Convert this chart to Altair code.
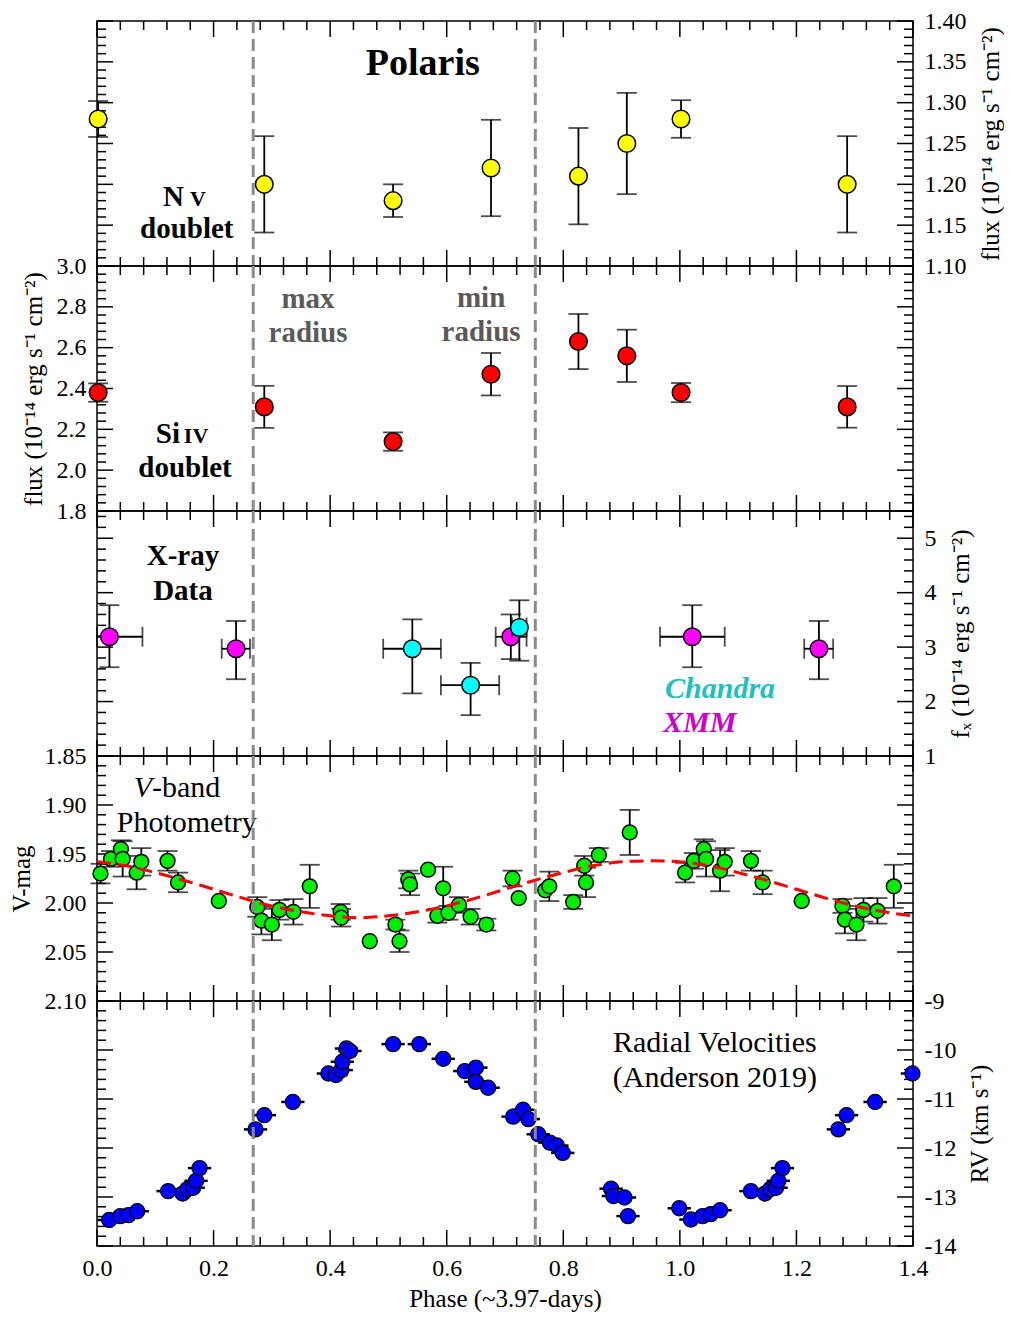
import altair as alt
import pandas as pd

FONT = "Liberation Serif"
W, H = 816, 245

# ---------------- data ----------------
phase_labels = [0.0, 0.2, 0.4, 0.6, 0.8, 1.0, 1.2, 1.4]
boundary_phases = [0.268, 0.752]

# N V doublet
nv_phase = [0.002, 0.287, 0.508, 0.676, 0.826, 0.909, 1.002, 1.287]
nv_flux = [1.280, 1.200, 1.180, 1.220, 1.210, 1.250, 1.280, 1.200]
nv_err = [0.022, 0.059, 0.020, 0.059, 0.059, 0.062, 0.023, 0.059]

# Si IV doublet
si_phase = [0.002, 0.287, 0.508, 0.676, 0.826, 0.909, 1.002, 1.287]
si_flux = [2.380, 2.310, 2.140, 2.470, 2.630, 2.560, 2.380, 2.310]
si_err = [0.045, 0.103, 0.045, 0.104, 0.135, 0.128, 0.047, 0.102]

# X-ray: XMM
xmm_phase = [0.0213, 0.2386, 0.710, 1.0213, 1.2386]
xmm_flux = [3.19, 2.97, 3.19, 3.19, 2.97]
xmm_lo = [2.63, 2.41, 2.78, 2.63, 2.41]
xmm_hi = [3.77, 3.48, 3.60, 3.77, 3.48]
xmm_plo = [-0.034, 0.214, 0.684, 0.966, 1.2134]
xmm_phi = [0.078, 0.2625, 0.737, 1.077, 1.263]
# X-ray: Chandra
cha_phase = [0.541, 0.641, 0.7246]
cha_flux = [2.97, 2.30, 3.36]
cha_lo = [2.15, 1.75, 2.75]
cha_hi = [3.51, 2.71, 3.86]
cha_plo = [0.491, 0.590, 0.712]
cha_phi = [0.590, 0.690, 0.737]

# V-band photometry
v_phase = [0.006, 0.024, 0.041, 0.044, 0.068, 0.076, 0.121, 0.139, 0.209, 0.275,
           0.282, 0.300, 0.313, 0.337, 0.365, 0.418, 0.419, 0.468, 0.512, 0.519,
           0.534, 0.537, 0.568, 0.584, 0.594, 0.603, 0.621, 0.641, 0.668, 0.713,
           0.7235, 0.769, 0.776, 0.817, 0.836, 0.839, 0.861, 0.914, 1.009, 1.024,
           1.041, 1.045, 1.069, 1.077, 1.122, 1.142, 1.209, 1.279, 1.283, 1.303,
           1.315, 1.339, 1.367]
v_mag = [1.970, 1.955, 1.945, 1.955, 1.969, 1.958, 1.957, 1.979, 1.998, 2.004,
         2.018, 2.022, 2.007, 2.009, 1.983, 2.009, 2.015, 2.039, 2.022, 2.039,
         1.976, 1.981, 1.966, 2.013, 1.985, 2.010, 2.002, 2.014, 2.022, 1.975,
         1.995, 1.987, 1.983, 1.999, 1.962, 1.979, 1.951, 1.928, 1.969, 1.957,
         1.945, 1.955, 1.967, 1.958, 1.957, 1.979, 1.998, 2.003, 2.017, 2.022,
         2.007, 2.008, 1.983]
v_err = [0.010, 0.008, 0.009, 0.018, 0.017, 0.014, 0.010, 0.010, 0.0, 0.010,
         0.014, 0.016, 0.010, 0.013, 0.022, 0.008, 0.009, 0.0, 0.005, 0.011,
         0.009, 0.011, 0.0, 0.007, 0.022, 0.007, 0.008, 0.008, 0.006, 0.008,
         0.0, 0.0, 0.015, 0.007, 0.010, 0.015, 0.007, 0.023, 0.010, 0.008,
         0.010, 0.018, 0.021, 0.014, 0.010, 0.012, 0.0, 0.007, 0.014, 0.016,
         0.012, 0.013, 0.022]

# red dashed fit curve
fit_phase = [0.00, 0.05, 0.10, 0.15, 0.20, 0.25, 0.30, 0.35, 0.40, 0.45, 0.50,
             0.55, 0.60, 0.65, 0.70, 0.75, 0.80, 0.85, 0.90, 0.95, 1.00, 1.05,
             1.10, 1.15, 1.20, 1.25, 1.30, 1.35, 1.40]
fit_mag = [1.958, 1.962, 1.969, 1.977, 1.986, 1.995, 2.003, 2.009, 2.013, 2.015,
           2.013, 2.009, 2.003, 1.995, 1.986, 1.977, 1.969, 1.962, 1.958, 1.957,
           1.958, 1.962, 1.969, 1.977, 1.986, 1.995, 2.003, 2.009, 2.013]

# Radial velocities
rv_phase = [0.021, 0.040, 0.054, 0.069, 0.122, 0.147, 0.155, 0.165, 0.170, 0.176,
            0.272, 0.287, 0.336, 0.397, 0.410, 0.419, 0.421, 0.428, 0.434, 0.508,
            0.553, 0.594, 0.631, 0.650, 0.650, 0.671, 0.714, 0.731, 0.740, 0.757,
            0.777, 0.789, 0.799, 0.882, 0.886, 0.905, 0.911, 0.999, 1.019, 1.039,
            1.053, 1.069, 1.122, 1.146, 1.155, 1.165, 1.169, 1.176, 1.272, 1.286,
            1.335, 1.399]
rv_kms = [-13.47, -13.39, -13.37, -13.29, -12.88, -12.93, -12.84, -12.81, -12.67, -12.41,
          -11.62, -11.33, -11.06, -10.48, -10.51, -10.41, -10.24, -9.97, -10.02, -9.88,
          -9.88, -10.18, -10.43, -10.36, -10.65, -10.77, -11.36, -11.22, -11.41, -11.72,
          -11.89, -11.95, -12.10, -12.83, -12.98, -13.01, -13.39, -13.23, -13.46, -13.39,
          -13.35, -13.27, -12.88, -12.93, -12.84, -12.81, -12.67, -12.41, -11.62, -11.33,
          -11.06, -10.48]
rv_perr = 0.02

# axis tick values
def tick_sets(lo, hi, minor_step, per_major):
    n = int(round((hi - lo) / minor_step))
    major, minor = [], []
    for i in range(n + 1):
        v = round(lo + i * minor_step, 4)
        (major if i % per_major == 0 else minor).append(v)
    return major, minor

x_major, x_minor = tick_sets(0.0, 1.4, 0.04, 5)

# ---------------- helpers ----------------
def xq(field, axis=None):
    return alt.X(field, type="quantitative",
                 scale=alt.Scale(domain=[0, 1.4], nice=False, zero=False, clamp=True),
                 axis=axis)


def make_y(domain, axis, reverse=False):
    def yq(field):
        return alt.Y(field, type="quantitative",
                     scale=alt.Scale(domain=domain, nice=False, zero=False, reverse=reverse),
                     axis=axis)
    return yq


def tick_layers(yq, xaxis, y_major, y_minor):
    layers = []
    for vals, L in ((x_major, 16), (x_minor, 9)):
        base = alt.Chart(pd.DataFrame({"t": vals})).mark_rule(color="black", strokeWidth=1.5)
        layers.append(base.encode(x=xq("t", xaxis), y=alt.value(0), y2=alt.value(L)))
        layers.append(base.encode(x=xq("t", xaxis), y=alt.value(H), y2=alt.value(H - L)))
    for vals, L in ((y_major, 16), (y_minor, 9)):
        base = alt.Chart(pd.DataFrame({"t": vals})).mark_rule(color="black", strokeWidth=1.5)
        layers.append(base.encode(y=yq("t"), x=alt.value(0), x2=alt.value(L)))
        layers.append(base.encode(y=yq("t"), x=alt.value(W), x2=alt.value(W - L)))
    return layers


def dashed(xaxis):
    return alt.Chart(pd.DataFrame({"b": boundary_phases})).mark_rule(
        color="#8a8a8a", strokeWidth=3, strokeDash=[12, 6]
    ).encode(x=xq("b", xaxis), y=alt.value(0), y2=alt.value(H))


def text(yq, xaxis, xs, vs, labels, **props):
    df = pd.DataFrame({"x": xs, "v": vs, "t": labels})
    p = dict(font=FONT, fontSize=29, fontWeight="bold", color="black")
    p.update(props)
    return alt.Chart(df).mark_text(**p).encode(x=xq("x", xaxis), y=yq("v"), text="t:N")


def yaxis(orient, values, fmt=None, title="", expr=None):
    kw = dict(orient=orient, values=values, title=title, labelOverlap=False,
              labelFlush=False, labelPadding=11, ticks=False, domain=False, grid=False)
    if fmt:
        kw["format"] = fmt
    if expr:
        kw["labelExpr"] = expr
    if orient == "right":
        kw.update(titleAngle=270, titleBaseline="top", titlePadding=12)
    else:
        kw.update(titlePadding=10)
    return alt.Axis(**kw)


FLUX_TITLE = "flux (10\u207b\u00b9\u2074 erg s\u207b\u00b9 cm\u207b\u00b2)"

# ---------------- panel 1: N V ----------------
y1maj, y1min = tick_sets(1.10, 1.40, 0.01, 5)
yq1 = make_y([1.10, 1.40], yaxis("right", y1maj, ".2f", FLUX_TITLE))
df1 = pd.DataFrame({"p": nv_phase, "v": nv_flux, "e": nv_err})
df1["lo"] = df1.v - df1.e
df1["hi"] = df1.v + df1.e
p1 = alt.layer(
    *tick_layers(yq1, None, y1maj, y1min),
    alt.Chart(df1).mark_errorbar(ticks=True, size=20, thickness=1.8, color="black")
    .encode(x=xq("p"), y=yq1("lo"), y2=alt.Y2("hi")),
    alt.Chart(df1).mark_circle(size=310, fill="#ffff00", stroke="black", strokeWidth=1.5, opacity=1)
    .encode(x=xq("p"), y=yq1("v")),
    text(yq1, None, [0.559], [1.347], ["Polaris"], fontSize=38),
    text(yq1, None, [0.149], [1.1735], ["N"], align="right", baseline="alphabetic"),
    text(yq1, None, [0.1595], [1.1735], ["V"], align="left", baseline="alphabetic", fontSize=22),
    text(yq1, None, [0.154], [1.145], ["doublet"]),
    dashed(None),
).properties(width=W, height=H)

# ---------------- panel 2: Si IV ----------------
y2maj, y2min = tick_sets(1.8, 3.0, 0.04, 5)
yq2 = make_y([1.8, 3.0], yaxis("left", y2maj, ".1f", FLUX_TITLE))
df2 = pd.DataFrame({"p": si_phase, "v": si_flux, "e": si_err})
df2["lo"] = df2.v - df2.e
df2["hi"] = df2.v + df2.e
p2 = alt.layer(
    *tick_layers(yq2, None, y2maj, y2min),
    alt.Chart(df2).mark_errorbar(ticks=True, size=20, thickness=1.8, color="black")
    .encode(x=xq("p"), y=yq2("lo"), y2=alt.Y2("hi")),
    alt.Chart(df2).mark_circle(size=310, fill="#ff0000", stroke="black", strokeWidth=1.5, opacity=1)
    .encode(x=xq("p"), y=yq2("v")),
    text(yq2, None, [0.362, 0.362, 0.659, 0.659], [2.838, 2.672, 2.843, 2.677],
         ["max", "radius", "min", "radius"], color="#5a5a5a"),
    text(yq2, None, [0.1424], [2.133], ["Si"], align="right", baseline="alphabetic"),
    text(yq2, None, [0.149], [2.133], ["IV"], align="left", baseline="alphabetic", fontSize=22),
    text(yq2, None, [0.151], [2.011], ["doublet"]),
    dashed(None),
).properties(width=W, height=H)

# ---------------- panel 3: X-ray ----------------
y3maj, y3min = tick_sets(1.0, 5.4, 0.2, 5)
yq3 = make_y([1.0, 5.5], yaxis("right", y3maj, "d", "f\u2093 (10\u207b\u00b9\u2074 erg s\u207b\u00b9 cm\u207b\u00b2)"))
dfx = pd.DataFrame({"p": xmm_phase, "v": xmm_flux, "lo": xmm_lo, "hi": xmm_hi,
                    "plo": xmm_plo, "phi": xmm_phi})
dfc = pd.DataFrame({"p": cha_phase, "v": cha_flux, "lo": cha_lo, "hi": cha_hi,
                    "plo": cha_plo, "phi": cha_phi})
xr_layers = []
for df, col in ((dfx, "#ff00ff"), (dfc, "#00ffff")):
    xr_layers += [
        alt.Chart(df).mark_errorbar(ticks=True, size=20, thickness=1.8, color="black")
        .encode(x=xq("p"), y=yq3("lo"), y2=alt.Y2("hi")),
        alt.Chart(df).mark_errorbar(ticks=True, size=20, thickness=1.8, color="black")
        .encode(y=yq3("v"), x=xq("plo"), x2=alt.X2("phi")),
        alt.Chart(df).mark_circle(size=310, fill=col, stroke="black", strokeWidth=1.5, opacity=1)
        .encode(x=xq("p"), y=yq3("v")),
    ]
p3 = alt.layer(
    *tick_layers(yq3, None, y3maj, y3min),
    *xr_layers,
    text(yq3, None, [0.1475, 0.1475], [4.673, 4.03], ["X-ray", "Data"]),
    text(yq3, None, [1.069], [2.231], ["Chandra"], color="#20c0c0", fontStyle="italic", fontSize=30),
    text(yq3, None, [1.034], [1.606], ["XMM"], color="#cc00cc", fontStyle="italic", fontSize=30),
    dashed(None),
).properties(width=W, height=H)

# ---------------- panel 4: V-band ----------------
y4maj, y4min = tick_sets(1.85, 2.10, 0.01, 5)
yq4 = make_y([1.85, 2.10], yaxis("left", y4maj, ".2f", "V-mag"), reverse=True)
df4 = pd.DataFrame({"p": v_phase, "v": v_mag, "e": v_err})
df4["lo"] = df4.v - df4.e
df4["hi"] = df4.v + df4.e
dffit = pd.DataFrame({"p": fit_phase, "v": fit_mag})
p4 = alt.layer(
    *tick_layers(yq4, None, y4maj, y4min),
    alt.Chart(df4).transform_filter("datum.e > 0")
    .mark_errorbar(ticks=True, size=20, thickness=1.8, color="black")
    .encode(x=xq("p"), y=yq4("lo"), y2=alt.Y2("hi")),
    alt.Chart(df4).mark_circle(size=220, fill="#00ee00", stroke="black", strokeWidth=1.5, opacity=1)
    .encode(x=xq("p"), y=yq4("v")),
    alt.Chart(dffit).mark_line(color="#ff0000", strokeWidth=3, strokeDash=[14, 7], interpolate="monotone")
    .encode(x=xq("p"), y=yq4("v")),
    text(yq4, None, [0.0944], [1.8827], ["V"], align="right", fontWeight="normal",
         fontStyle="italic", fontSize=30),
    text(yq4, None, [0.0944], [1.8827], ["-band"], align="left", fontWeight="normal", fontSize=30),
    text(yq4, None, [0.154], [1.918], ["Photometry"], fontWeight="normal", fontSize=30),
    dashed(None),
).properties(width=W, height=H)

# ---------------- panel 5: RV ----------------
xaxis5 = alt.Axis(values=phase_labels, format=".1f", title="Phase (~3.97-days)",
                  labelFlush=False, labelOverlap=False, ticks=False, domain=False,
                  grid=False, labelPadding=10, titlePadding=6)
y5maj, y5min = tick_sets(-14.0, -9.0, 0.2, 5)
yq5 = make_y([-14.0, -9.0], yaxis("right", y5maj, None, "RV (km s\u207b\u00b9)",
                                  expr="toString(datum.value)"))
df5 = pd.DataFrame({"p": rv_phase, "v": rv_kms})
df5["plo"] = df5.p - rv_perr
df5["phi"] = df5.p + rv_perr
p5 = alt.layer(
    *tick_layers(yq5, xaxis5, y5maj, y5min),
    alt.Chart(df5).mark_rule(color="black", strokeWidth=2.5)
    .encode(x=xq("plo", xaxis5), x2=alt.X2("phi"), y=yq5("v")),
    alt.Chart(df5).mark_circle(size=230, fill="#0000ff", stroke="black", strokeWidth=1.2, opacity=1)
    .encode(x=xq("p", xaxis5), y=yq5("v")),
    text(yq5, xaxis5, [1.060, 1.060], [-9.857, -10.571],
         ["Radial Velocities", "(Anderson 2019)"], fontWeight="normal", fontSize=30),
    dashed(xaxis5),
).properties(width=W, height=H)

chart = alt.vconcat(p1, p2, p3, p4, p5, spacing=0, bounds="flush").properties(
    padding={"left": 0, "top": 0, "right": 0, "bottom": 0}
).configure_view(
    stroke="black", strokeWidth=1.5
).configure_axis(
    labelFont=FONT, titleFont=FONT, labelFontSize=24, titleFontSize=25,
    titleFontWeight="normal", labelColor="black", titleColor="black"
)

chart.save("out.html", embed_options={"renderer": "svg", "actions": False})
